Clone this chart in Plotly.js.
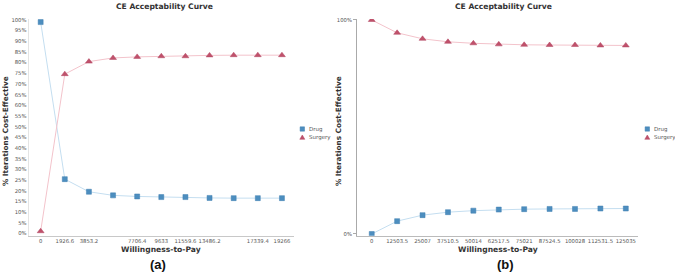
<!DOCTYPE html>
<html><head><meta charset="utf-8">
<script src="https://cdn.plot.ly/plotly-3.0.1.min.js"></script>
<style>html,body{margin:0;padding:0;background:#fff}#chart{width:675px;height:272px}</style>
</head><body><div id="chart"></div>
<script>
// Panel (a)
const wtpA = ["0","1926.6","3853.2","5779.8","7706.4","9633","11559.6","13486.2","15412.8","17339.4","19266"];
const wtpALabels = ["0","1926.6","3853.2","7706.4","9633","11559.6","13486.2","17339.4","19266"];
const drugA = [99.0, 25.4, 19.5, 17.8, 17.3, 17.0, 17.0, 16.6, 16.5, 16.5, 16.5];
const surgeryA = [1.0, 74.6, 80.5, 82.2, 82.7, 83.0, 83.0, 83.4, 83.5, 83.5, 83.5];
const yTicksA = [0,5,10,15,20,25,30,35,40,45,50,55,60,65,70,75,80,85,90,95,100];
// Panel (b)
const wtpB = ["0","12503.5","25007","37510.5","50014","62517.5","75021","87524.5","100028","112531.5","125035"];
const drugB = [0.0, 6.0, 8.8, 10.2, 10.9, 11.4, 11.6, 11.7, 11.7, 11.9, 11.9];
const surgeryB = [100.0, 94.0, 91.2, 89.8, 89.1, 88.6, 88.4, 88.3, 88.3, 88.1, 88.1];
const yTicksB = [0,100];

const W=675,H=272;
const X=p=>p/W, Y=p=>1-p/H;
const drugC='#4d8ebf', drugL='#c4def0', surgC='#c0516b', surgL='#f3c3cb';
const tickFont={family:'DejaVu Sans, Verdana, sans-serif',size:5.3,color:'#555'};

const traces=[
 {x:wtpA,y:drugA,xaxis:'x',yaxis:'y',mode:'lines+markers',name:'Drug',
  line:{color:drugL,width:1},marker:{symbol:'square',size:5,color:drugC,line:{color:'#3f7fb0',width:0.5}}},
 {x:wtpA,y:surgeryA,xaxis:'x',yaxis:'y',mode:'lines+markers',name:'Surgery',
  line:{color:surgL,width:1},marker:{symbol:'triangle-up',size:6,color:surgC,line:{color:'#b04560',width:0.5}}},
 {x:wtpB,y:drugB,xaxis:'x2',yaxis:'y2',mode:'lines+markers',name:'Drug',
  line:{color:drugL,width:1},marker:{symbol:'square',size:5,color:drugC,line:{color:'#3f7fb0',width:0.5}}},
 {x:wtpB,y:surgeryB,xaxis:'x2',yaxis:'y2',mode:'lines+markers',name:'Surgery',
  line:{color:surgL,width:1},marker:{symbol:'triangle-up',size:6,color:surgC,line:{color:'#b04560',width:0.5}}}
];

const yDom=[Y(235.7),Y(18.9)];
const layout={
 width:W,height:H,margin:{l:0,r:0,t:0,b:0},paper_bgcolor:'#fff',plot_bgcolor:'#fff',
 showlegend:false,
 xaxis:{domain:[X(28.6),X(294)],type:'category',categoryarray:wtpA,range:[-0.5,10.5],
   tickvals:wtpALabels,ticktext:wtpALabels,tickangle:0,showgrid:false,zeroline:false,showline:true,linecolor:'#c8c8c8',linewidth:1,
   ticks:'',tickfont:tickFont,fixedrange:true},
 yaxis:{domain:yDom,range:[-1.1,100.5],tickvals:yTicksA,ticktext:yTicksA.map(v=>v+'%'),
   showgrid:false,zeroline:false,showline:true,linecolor:'#e4e4e4',ticks:'',tickfont:tickFont},
 xaxis2:{domain:[X(357),X(638)],anchor:'y2',type:'category',categoryarray:wtpB,range:[-0.58,10.48],tickangle:0,
   showgrid:false,zeroline:false,showline:true,linecolor:'#bbbbbb',linewidth:1,ticks:'',tickfont:tickFont},
 yaxis2:{domain:yDom,anchor:'x2',range:[-0.8,100.5],tickvals:yTicksB,ticktext:yTicksB.map(v=>v+'%'),
   showgrid:false,zeroline:false,showline:true,linecolor:'#aaaaaa',ticks:'outside',ticklen:3,tickcolor:'#aaaaaa',tickfont:tickFont},
 annotations:[],
 shapes:[]
};
const bold='DejaVu Sans, Verdana, sans-serif';
function ann(text,x,y,size,opts){layout.annotations.push(Object.assign({text:text,x:X(x),y:Y(y),xref:'paper',yref:'paper',showarrow:false,
  font:{family:bold,size:size,color:'#333'},xanchor:'center',yanchor:'middle'},opts||{}));}
ann('<b>CE Acceptability Curve</b>',164.5,6.5,7.6);
ann('<b>CE Acceptability Curve</b>',503,6.5,7.6);
ann('<b>Willingness-to-Pay</b>',161,249.5,7.6);
ann('<b>Willingness-to-Pay</b>',498,249.5,7.6);
ann('<b>% Iterations Cost-Effective</b>',5,131,7.3,{textangle:-90});
ann('<b>% Iterations Cost-Effective</b>',338,131,7.3,{textangle:-90});
ann('<b>(a)</b>',158,264,13,{font:{family:'Liberation Sans, Arial, sans-serif',size:13,color:'#111'}});
ann('<b>(b)</b>',505,264,13,{font:{family:'Liberation Sans, Arial, sans-serif',size:13,color:'#111'}});
// legends
function legend(cx){
  layout.shapes.push({type:'rect',xref:'paper',yref:'paper',x0:X(cx-2.2),x1:X(cx+2.2),y0:Y(131.2),y1:Y(126.8),fillcolor:drugC,line:{color:'#3f7fb0',width:0.5}});
  layout.shapes.push({type:'path',xref:'paper',yref:'paper',path:`M ${X(cx-2.5)} ${Y(139.3)} L ${X(cx+2.5)} ${Y(139.3)} L ${X(cx)} ${Y(135)} Z`,fillcolor:surgC,line:{color:'#b04560',width:0.5}});
  ann('Drug',cx+5,129,5.5,{xanchor:'left',font:{family:bold,size:5.5,color:'#555'}});
  ann('Surgery',cx+5,137.3,5.5,{xanchor:'left',font:{family:bold,size:5.5,color:'#555'}});
}
legend(302.3);legend(647.3);
Plotly.newPlot('chart',traces,layout,{displayModeBar:false,staticPlot:true});
</script></body></html>
